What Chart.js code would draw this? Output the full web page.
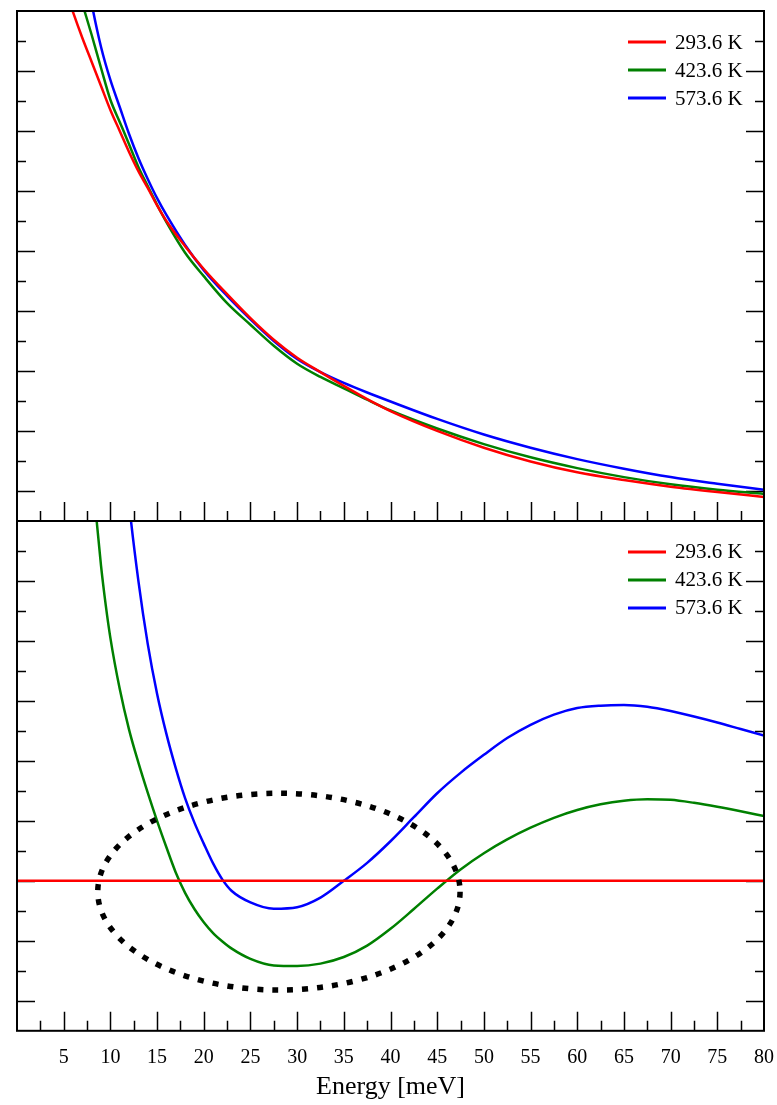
<!DOCTYPE html>
<html>
<head>
<meta charset="utf-8">
<script src="https://cdn.jsdelivr.net/npm/chart.js@4/dist/chart.umd.min.js"></script>
<style>
  body { margin: 0; background: #fff; }
  #wrap { width: 777px; height: 1105px; }
</style>
</head>
<body>
<div id="wrap"><canvas id="chart"></canvas></div>
<script>
const temps = ['293.6 K', '423.6 K', '573.6 K'];
const colors = ['#ff0000', '#008000', '#0000ff'];

// upper panel
const energyTop = [5, 6, 7, 8, 9, 10, 11, 12, 13, 14, 15, 16, 18, 20, 22.5, 25, 27.5, 30, 32.5, 35, 37.5, 40, 45, 50, 55, 60, 65, 70, 75, 80];
const topRed   = [8.45, 7.98, 7.55, 7.15, 6.75, 6.35, 6.0, 5.65, 5.33, 5.05, 4.76, 4.5, 4.08, 3.7, 3.28, 2.88, 2.52, 2.22, 1.98, 1.75, 1.53, 1.33, 1.0, 0.72, 0.49, 0.31, 0.18, 0.07, -0.02, -0.1];
const topGreen = [9.2, 8.65, 8.12, 7.6, 7.05, 6.52, 6.15, 5.78, 5.4, 5.08, 4.77, 4.48, 3.97, 3.58, 3.13, 2.77, 2.42, 2.12, 1.9, 1.71, 1.52, 1.34, 1.04, 0.78, 0.56, 0.38, 0.23, 0.11, 0.02, -0.05];
const topBlue  = [10.8, 9.9, 9.0, 8.12, 7.4, 6.85, 6.4, 5.95, 5.55, 5.2, 4.88, 4.6, 4.1, 3.68, 3.25, 2.86, 2.5, 2.2, 1.98, 1.8, 1.64, 1.49, 1.2, 0.94, 0.72, 0.53, 0.37, 0.23, 0.12, 0.02];

// lower panel (difference to 293.6 K)
const energyBot = [0, 5, 8, 8.5, 9, 9.5, 10, 11, 12, 13, 14, 15, 16, 17, 18, 19, 20, 21, 22, 23, 25, 27.5, 30, 32.5, 35, 37.5, 40, 42.5, 45, 47.5, 50, 52.5, 55, 57.5, 60, 62.5, 65, 67.5, 70, 72.5, 75, 77.5, 80];
const botRed   = [0, 0, 0, 0, 0, 0, 0, 0, 0, 0, 0, 0, 0, 0, 0, 0, 0, 0, 0, 0, 0, 0, 0, 0, 0, 0, 0, 0, 0, 0, 0, 0, 0, 0, 0, 0, 0, 0, 0, 0, 0, 0, 0];
const botGreen = [null, null, 7.0, 6.05, 5.25, 4.6, 4.05, 3.2, 2.52, 1.97, 1.47, 1.0, 0.56, 0.14, -0.2, -0.47, -0.69, -0.87, -1.01, -1.13, -1.3, -1.41, -1.42, -1.38, -1.27, -1.08, -0.8, -0.47, -0.13, 0.19, 0.46, 0.69, 0.885, 1.05, 1.18, 1.275, 1.335, 1.36, 1.35, 1.3, 1.235, 1.16, 1.08];
const botBlue  = [null, null, null, null, null, null, null, 8.0, 6.3, 5.0, 3.95, 3.12, 2.45, 1.88, 1.38, 0.97, 0.62, 0.29, 0.02, -0.17, -0.36, -0.465, -0.44, -0.28, 0.0, 0.3, 0.66, 1.06, 1.46, 1.8, 2.1, 2.38, 2.6, 2.77, 2.88, 2.92, 2.93, 2.9, 2.83, 2.74, 2.64, 2.53, 2.42];

// dotted ring around the dip (data units of the lower panel)
const ring = { energy: 28.05, value: -0.18, halfWidth: 19.4, halfHeight: 1.64 };

const serif = '"Liberation Serif", "Times New Roman", serif';

function series(xs, ys, i, axis) {
  return {
    label: temps[i],
    data: xs.map((x, k) => ({ x: x, y: ys[k] })),
    yAxisID: axis,
    borderColor: colors[i],
    borderWidth: 2.5,
    pointRadius: 0,
    fill: false,
    cubicInterpolationMode: 'monotone'
  };
}

// inward ticks (under the curves), dotted ring, frame and per-panel legends
const decorations = {
  id: 'decorations',
  beforeDatasetsDraw(chart) {
    const { ctx, chartArea: a, scales } = chart;
    const x = scales.x;
    ctx.save();
    ctx.strokeStyle = '#000';
    ctx.lineWidth = 1.5;
    ctx.beginPath();
    [scales.upper, scales.lower].forEach(p => {
      // x ticks along the bottom edge of each panel
      for (let v = 2.5; v < 80; v += 2.5) {
        const px = Math.round(x.getPixelForValue(v)) + 0.5;
        const len = v % 5 === 0 ? 19 : 10;
        ctx.moveTo(px, p.bottom);
        ctx.lineTo(px, p.bottom - len);
      }
      // y ticks on both sides
      for (let v = Math.ceil(p.min * 2) / 2; v <= p.max; v += 0.5) {
        const py = Math.round(p.getPixelForValue(v)) + 0.5;
        if (py <= p.top + 1 || py >= p.bottom - 1) continue;
        const len = Number.isInteger(v) ? 18 : 9;
        ctx.moveTo(a.left, py);
        ctx.lineTo(a.left + len, py);
        ctx.moveTo(a.right, py);
        ctx.lineTo(a.right - len, py);
      }
    });
    ctx.stroke();
    ctx.restore();
  },
  afterDatasetsDraw(chart) {
    const { ctx, scales } = chart;
    const x = scales.x, yb = scales.lower;
    const cx = x.getPixelForValue(ring.energy);
    const cy = yb.getPixelForValue(ring.value);
    const rx = x.getPixelForValue(ring.energy + ring.halfWidth) - cx;
    const ry = cy - yb.getPixelForValue(ring.value + ring.halfHeight);
    ctx.save();
    ctx.strokeStyle = '#000';
    ctx.lineWidth = 5.5;
    ctx.setLineDash([6, 9]);
    ctx.beginPath();
    ctx.ellipse(cx, cy, rx, ry, 0, 0, Math.PI * 2);
    ctx.stroke();
    ctx.restore();
  },
  afterDraw(chart) {
    const { ctx, chartArea: a, scales } = chart;
    ctx.save();
    ctx.strokeStyle = '#000';
    ctx.lineWidth = 2;
    ctx.strokeRect(a.left, a.top, a.right - a.left, a.bottom - a.top);
    ctx.beginPath();
    ctx.moveTo(a.left, scales.upper.bottom);
    ctx.lineTo(a.right, scales.upper.bottom);
    ctx.stroke();

    ctx.font = '21px ' + serif;
    ctx.fillStyle = '#000';
    ctx.textBaseline = 'middle';
    ctx.textAlign = 'left';
    [scales.upper, scales.lower].forEach(p => {
      temps.forEach((t, i) => {
        const ly = p.top + 31 + i * 28;
        ctx.strokeStyle = colors[i];
        ctx.lineWidth = 3;
        ctx.beginPath();
        ctx.moveTo(a.right - 136, ly);
        ctx.lineTo(a.right - 98, ly);
        ctx.stroke();
        ctx.fillText(t, a.right - 89, ly + 1);
      });
    });
    ctx.restore();
  }
};

new Chart('chart', {
  type: 'line',
  data: {
    datasets: [
      series(energyTop, topRed, 0, 'upper'),
      series(energyTop, topGreen, 1, 'upper'),
      series(energyTop, topBlue, 2, 'upper'),
      series(energyBot, botRed, 0, 'lower'),
      series(energyBot, botGreen, 1, 'lower'),
      series(energyBot, botBlue, 2, 'lower')
    ]
  },
  options: {
    responsive: true,
    maintainAspectRatio: false,
    animation: false,
    layout: { padding: { left: 17, right: 13, top: 11, bottom: 2 } },
    plugins: { legend: { display: false }, tooltip: { enabled: false } },
    scales: {
      x: {
        type: 'linear',
        min: 0,
        max: 80,
        // tick marks are drawn by the plugin; tickLength only spaces the labels
        grid: { display: false, drawTicks: true, tickLength: 15 },
        border: { display: false },
        ticks: {
          stepSize: 5,
          autoSkip: false,
          maxRotation: 0,
          padding: 0,
          color: '#000',
          font: { family: serif, size: 20 },
          callback: v => (v === 0 ? '' : v)
        },
        title: {
          display: true,
          text: 'Energy [meV]',
          color: '#000',
          font: { family: serif, size: 26 },
          padding: { top: 2, bottom: 0 }
        }
      },
      // stacked panels: the one listed last ends up on top
      lower: {
        type: 'linear',
        display: false,
        position: 'left',
        stack: 'panels',
        stackWeight: 1,
        min: -2.5,
        max: 6
      },
      upper: {
        type: 'linear',
        display: false,
        position: 'left',
        stack: 'panels',
        stackWeight: 1,
        min: -0.5,
        max: 8
      }
    }
  },
  plugins: [decorations]
});
</script>
</body>
</html>
